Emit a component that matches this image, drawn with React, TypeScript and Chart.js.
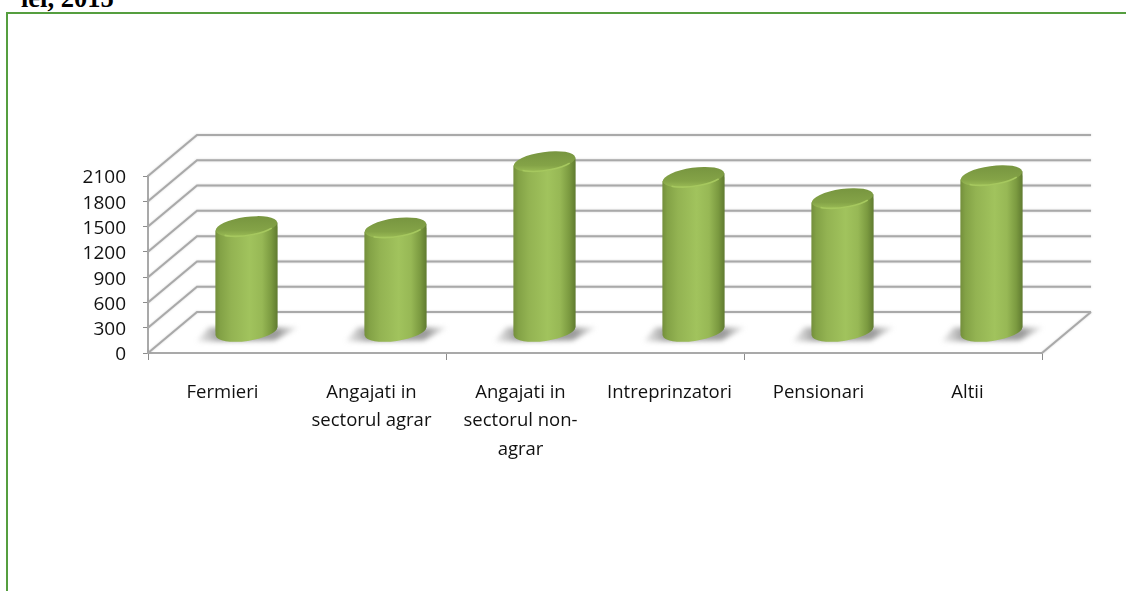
import React, { useEffect, useRef } from "react";
import { Chart, registerables } from "chart.js";

Chart.register(...registerables);

const categories: (string | string[])[] = [
  "Fermieri",
  ["Angajati in", "sectorul agrar"],
  ["Angajati in", "sectorul non-", "agrar"],
  "Intreprinzatori",
  "Pensionari",
  "Altii",
];
const seriesValues = [1252, 1237, 2022, 1836, 1584, 1856];
const yMax = 2100;
const yStep = 300;
const titleFragment = "lei, 2015";

const DEPTH_X = 49;
const DEPTH_Y = 41;
const BAR_DX = 24;
const BAR_DY = 21;
const TILT = (-8 * Math.PI) / 180;
const CAP_RY = 9.5;
const SKEW = 4;
const GRID = "#a9a9a9";

function sideGradient(c: CanvasRenderingContext2D, cx: number, r: number) {
  const g = c.createLinearGradient(cx - r, 0, cx + r, 0);
  g.addColorStop(0, "#748f3c");
  g.addColorStop(0.08, "#83a246");
  g.addColorStop(0.25, "#93b352");
  g.addColorStop(0.55, "#a1c35d");
  g.addColorStop(0.75, "#97b855");
  g.addColorStop(0.9, "#7b9a40");
  g.addColorStop(1, "#607b30");
  return g;
}

function bodyPath(ctx: CanvasRenderingContext2D, b: any) {
  const r = b.width / 2;
  ctx.moveTo(b.x - r, b.y + SKEW);
  ctx.lineTo(b.x + r, b.y - SKEW);
  ctx.lineTo(b.x + r, b.base - SKEW);
  ctx.lineTo(b.x - r, b.base + SKEW);
  ctx.closePath();
}

const cylinderPlugin = {
  id: "cylinder3d",
  beforeDatasetsDraw(chart: any) {
    const { ctx, chartArea, scales } = chart;
    const { left, right, bottom } = chartArea;
    ctx.save();
    ctx.strokeStyle = GRID;
    ctx.lineWidth = 2;
    ctx.shadowColor = "rgba(120,120,120,0.35)";
    ctx.shadowBlur = 2;
    ctx.beginPath();
    for (const t of scales.y.ticks) {
      const y = scales.y.getPixelForValue(t.value);
      ctx.moveTo(left, y);
      ctx.lineTo(left + DEPTH_X, y - DEPTH_Y);
      ctx.lineTo(right + DEPTH_X, y - DEPTH_Y);
    }
    ctx.moveTo(right, bottom);
    ctx.lineTo(right + DEPTH_X, bottom - DEPTH_Y);
    ctx.stroke();
    ctx.restore();

    const bars = chart.getDatasetMeta(0).data;
    for (const b of bars) {
      const cx = b.x + BAR_DX;
      const cy = b.base - BAR_DY;
      ctx.save();
      ctx.filter = "blur(2.5px)";
      const g = ctx.createLinearGradient(cx - 50, 0, cx + 52, 0);
      g.addColorStop(0, "rgba(120,120,120,0.1)");
      g.addColorStop(0.22, "rgba(90,90,90,0.6)");
      g.addColorStop(0.8, "rgba(90,90,90,0.6)");
      g.addColorStop(1, "rgba(120,120,120,0.1)");
      ctx.fillStyle = g;
      ctx.beginPath();
      ctx.moveTo(cx - 38, cy - 4);
      ctx.lineTo(cx + 52, cy - 4);
      ctx.lineTo(cx + 28, cy + 9);
      ctx.lineTo(cx - 50, cy + 10);
      ctx.closePath();
      ctx.fill();
      ctx.restore();
    }

    ctx.save();
    ctx.translate(BAR_DX, -BAR_DY);
    for (const b of bars) {
      ctx.fillStyle = sideGradient(ctx, b.x, b.width / 2);
      ctx.beginPath();
      ctx.ellipse(b.x, b.base, b.width / 2, CAP_RY, TILT, 0, Math.PI * 2);
      ctx.fill();
      ctx.beginPath();
      bodyPath(ctx, b);
      ctx.fill();
    }
    ctx.save();
    ctx.beginPath();
    for (const b of bars) bodyPath(ctx, b);
    ctx.clip();
  },
  afterDatasetsDraw(chart: any) {
    const { ctx } = chart;
    ctx.restore();
    const bars = chart.getDatasetMeta(0).data;
    for (const b of bars) {
      const r = b.width / 2;
      const g = ctx.createLinearGradient(0, b.y - CAP_RY, 0, b.y + CAP_RY);
      g.addColorStop(0, "#789640");
      g.addColorStop(0.7, "#84a347");
      g.addColorStop(1, "#98b954");
      ctx.fillStyle = g;
      ctx.beginPath();
      ctx.ellipse(b.x, b.y, r, CAP_RY, TILT, 0, Math.PI * 2);
      ctx.fill();
      ctx.save();
      ctx.filter = "blur(0.6px)";
      ctx.strokeStyle = "#a6c85f";
      ctx.lineWidth = 1.6;
      ctx.beginPath();
      ctx.ellipse(b.x, b.y, r - 1, CAP_RY - 0.5, TILT, 0.6, Math.PI - 0.7);
      ctx.stroke();
      ctx.restore();
    }
    ctx.restore();
  },
};

export default function App() {
  const ref = useRef<HTMLCanvasElement>(null);

  useEffect(() => {
    const chart = new Chart(ref.current as HTMLCanvasElement, {
      type: "bar",
      data: {
        labels: categories as any,
        datasets: [
          {
            data: seriesValues,
            clip: false as any,
            borderWidth: 0,
            barPercentage: 0.416,
            categoryPercentage: 1,
            backgroundColor: (c: any) => {
              const sc = c.chart.scales?.x;
              if (!sc || !c.chart.chartArea) return "#9cbc59";
              return sideGradient(c.chart.ctx, sc.getPixelForValue(c.dataIndex), 31);
            },
          },
        ],
      },
      options: {
        animation: false,
        responsive: false,
        layout: { autoPadding: false, padding: { top: 176, right: 84, left: 0, bottom: 0 } },
        plugins: { legend: { display: false }, tooltip: { enabled: false } },
        scales: {
          x: {
            offset: true,
            afterFit: (s: any) => {
              s.height = 238;
            },
            border: { color: GRID, width: 2 },
            grid: {
              drawOnChartArea: false,
              tickLength: 7,
              tickWidth: 1,
              offset: true,
              tickColor: (c: any) => (c.index === undefined || c.index % 2 === 0 ? "#8c8c8c" : "rgba(0,0,0,0)"),
            },
            ticks: {
              autoSkip: false,
              maxRotation: 0,
              minRotation: 0,
              padding: 18,
              color: "#111",
              font: { family: "Open Sans", size: 18.5, lineHeight: 1.55 },
            },
          },
          y: {
            min: 0,
            max: yMax,
            afterFit: (s: any) => {
              s.width = 148;
            },
            border: { color: GRID, width: 2 },
            grid: { drawOnChartArea: false, tickLength: 5, tickColor: "#8c8c8c", tickWidth: 1 },
            ticks: {
              stepSize: yStep,
              autoSkip: false,
              padding: 17,
              labelOffset: 2,
              color: "#111",
              font: { family: "Open Sans", size: 19 },
              callback: (v: any) => String(v),
            },
          },
        },
      },
      plugins: [cylinderPlugin],
    } as any);
    return () => chart.destroy();
  }, []);

  return (
    <div style={{ position: "fixed", left: 0, top: 0, width: 1126, height: 591, overflow: "hidden", background: "#fff" }}>
      <div
        style={{
          position: "absolute",
          left: 21,
          top: -15,
          font: 'bold 26.5px "Liberation Serif"',
          color: "#000",
          lineHeight: "26px",
          whiteSpace: "nowrap",
        }}
      >
        {titleFragment}
      </div>
      <div
        style={{
          position: "absolute",
          left: 6,
          top: 12,
          width: 1120,
          height: 579,
          borderLeft: "2px solid #559e3f",
          borderTop: "2px solid #559e3f",
          boxSizing: "border-box",
        }}
      />
      <canvas ref={ref} width={1126} height={591} style={{ position: "absolute", left: 0, top: 0, display: "block", filter: "blur(0.35px)" }} />
    </div>
  );
}
